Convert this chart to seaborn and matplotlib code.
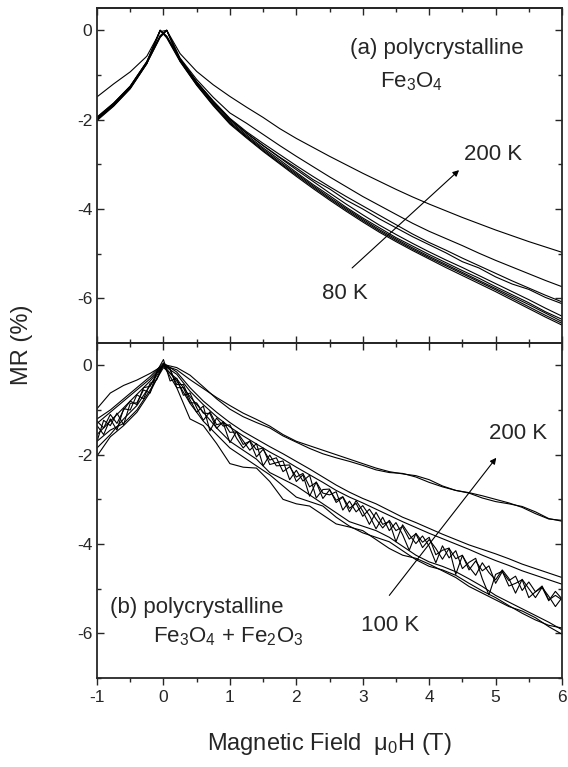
import numpy as np
import pandas as pd
import matplotlib
matplotlib.use("Agg")
import matplotlib.pyplot as plt
from matplotlib.ticker import MultipleLocator
import seaborn as sns

# ---- (a) polycrystalline Fe3O4, field grid (T) ----
field_a = [-1.0, -0.75, -0.5, -0.25, -0.05, 0.05, 0.25, 0.5, 0.75, 1.0,
           1.25, 1.5, 1.75, 2.0, 2.25, 2.5, 2.75, 3.0, 3.25, 3.5,
           3.75, 4.0, 4.25, 4.5, 4.75, 5.0, 5.25, 5.5, 5.75, 6.0]

mr_a_200K = [-1.49, -1.20, -0.93, -0.58, -0.03, 0.00, -0.52, -0.92, -1.22, -1.48,
             -1.72, -1.95, -2.20, -2.42, -2.62, -2.82, -3.01, -3.20, -3.38, -3.56,
             -3.73, -3.89, -4.04, -4.19, -4.33, -4.47, -4.60, -4.73, -4.85, -4.97]
mr_a_180K = [-1.95, -1.63, -1.25, -0.70, -0.12, 0.00, -0.62, -1.10, -1.50, -1.85,
             -2.08, -2.33, -2.58, -2.82, -3.05, -3.28, -3.50, -3.72, -3.92, -4.12,
             -4.32, -4.50, -4.66, -4.82, -4.99, -5.15, -5.30, -5.45, -5.60, -5.74]
mr_a_160K = [-1.97, -1.65, -1.26, -0.71, 0.00, -0.13, -0.64, -1.15, -1.58, -1.97,
             -2.27, -2.53, -2.78, -3.03, -3.27, -3.50, -3.72, -3.93, -4.14, -4.35,
             -4.56, -4.75, -4.92, -5.10, -5.27, -5.44, -5.61, -5.77, -5.93, -6.08]
mr_a_150K = [-1.99, -1.66, -1.28, -0.72, -0.13, 0.00, -0.65, -1.16, -1.60, -2.00,
             -2.30, -2.58, -2.84, -3.08, -3.34, -3.55, -3.80, -4.00, -4.22, -4.42,
             -4.62, -4.80, -4.98, -5.18, -5.32, -5.52, -5.68, -5.80, -5.98, -6.12]
mr_a_140K = [-1.94, -1.63, -1.25, -0.70, 0.00, -0.14, -0.64, -1.16, -1.60, -1.99,
             -2.30, -2.58, -2.85, -3.12, -3.38, -3.64, -3.89, -4.13, -4.36, -4.57,
             -4.77, -4.96, -5.14, -5.31, -5.49, -5.67, -5.85, -6.03, -6.22, -6.40]
mr_a_130K = [-1.97, -1.67, -1.27, -0.73, -0.15, 0.00, -0.67, -1.19, -1.63, -2.03,
             -2.34, -2.63, -2.90, -3.18, -3.45, -3.70, -3.96, -4.20, -4.42, -4.64,
             -4.83, -5.02, -5.20, -5.38, -5.55, -5.74, -5.92, -6.10, -6.30, -6.47]
mr_a_110K = [-2.00, -1.69, -1.30, -0.74, 0.00, -0.16, -0.68, -1.21, -1.66, -2.06,
             -2.37, -2.66, -2.94, -3.21, -3.48, -3.74, -3.99, -4.23, -4.46, -4.67,
             -4.87, -5.06, -5.24, -5.42, -5.60, -5.78, -5.96, -6.14, -6.33, -6.52]
mr_a_95K = [-1.99, -1.68, -1.29, -0.74, -0.16, 0.00, -0.69, -1.22, -1.67, -2.08,
            -2.39, -2.69, -2.97, -3.24, -3.51, -3.77, -4.02, -4.26, -4.49, -4.70,
            -4.90, -5.09, -5.27, -5.45, -5.63, -5.81, -6.00, -6.19, -6.38, -6.56]
mr_a_80K = [-2.02, -1.70, -1.31, -0.75, 0.00, -0.17, -0.70, -1.23, -1.69, -2.10,
            -2.41, -2.71, -2.99, -3.27, -3.54, -3.80, -4.05, -4.29, -4.52, -4.73,
            -4.93, -5.12, -5.31, -5.49, -5.67, -5.85, -6.04, -6.23, -6.42, -6.60]

curves_a = {"200K": mr_a_200K, "180K": mr_a_180K, "160K": mr_a_160K,
            "150K": mr_a_150K, "140K": mr_a_140K, "130K": mr_a_130K,
            "110K": mr_a_110K, "95K": mr_a_95K, "80K": mr_a_80K}

# ---- (b) polycrystalline Fe3O4 + Fe2O3 ----
field_b = [-1.0, -0.8, -0.6, -0.4, -0.2, 0.0, 0.2, 0.4, 0.6, 0.8,
           1.0, 1.2, 1.4, 1.6, 1.8, 2.0, 2.2, 2.4, 2.6, 2.8,
           3.0, 3.2, 3.4, 3.6, 3.8, 4.0, 4.2, 4.4, 4.6, 4.8,
           5.0, 5.2, 5.4, 5.6, 5.8, 6.0]

mr_b_200K_up = [-0.97, -0.62, -0.45, -0.33, -0.18, 0.00, -0.10, -0.32, -0.52, -0.72,
                -0.90, -1.07, -1.21, -1.36, -1.55, -1.70, -1.80, -1.90, -2.00, -2.10,
                -2.20, -2.30, -2.38, -2.43, -2.47, -2.56, -2.70, -2.80, -2.86, -2.97,
                -3.05, -3.10, -3.16, -3.28, -3.43, -3.49]
mr_b_200K_dn = [-1.30, -1.05, -0.80, -0.55, -0.30, 0.02, -0.05, -0.22, -0.48, -0.75,
                -0.98, -1.15, -1.28, -1.40, -1.58, -1.72, -1.86, -1.98, -2.07, -2.15,
                -2.24, -2.34, -2.40, -2.42, -2.50, -2.62, -2.72, -2.80, -2.85, -2.92,
                -3.00, -3.08, -3.18, -3.32, -3.44, -3.47]
mr_b_180K_up = [-1.20, -1.00, -0.75, -0.50, -0.25, 0.05, -0.15, -0.50, -0.80, -1.05,
                -1.28, -1.48, -1.65, -1.82, -1.98, -2.15, -2.32, -2.50, -2.68, -2.84,
                -2.98, -3.10, -3.25, -3.40, -3.52, -3.65, -3.78, -3.90, -4.02, -4.12,
                -4.22, -4.33, -4.45, -4.55, -4.65, -4.75]
mr_b_180K_dn = [-1.55, -1.25, -0.95, -0.65, -0.35, 0.00, -0.20, -0.58, -0.88, -1.15,
                -1.38, -1.58, -1.76, -1.94, -2.10, -2.28, -2.45, -2.62, -2.80, -2.95,
                -3.08, -3.22, -3.36, -3.50, -3.63, -3.76, -3.88, -4.00, -4.12, -4.25,
                -4.37, -4.48, -4.60, -4.70, -4.80, -4.90]
mr_b_100K_a = [-2.03, -1.60, -1.35, -1.05, -0.60, 0.00, -0.50, -1.20, -1.35, -1.75,
               -2.20, -2.28, -2.30, -2.60, -3.00, -3.10, -3.15, -3.35, -3.55, -3.62,
               -3.70, -3.90, -4.10, -4.25, -4.32, -4.45, -4.60, -4.75, -4.95, -5.10,
               -5.25, -5.40, -5.50, -5.65, -5.85, -6.02]
mr_b_100K_b = [-1.70, -1.45, -1.30, -1.00, -0.55, -0.05, -0.30, -0.70, -1.05, -1.40,
               -1.70, -1.90, -2.10, -2.40, -2.55, -2.70, -2.90, -3.10, -3.30, -3.50,
               -3.60, -3.70, -3.85, -4.05, -4.25, -4.40, -4.50, -4.62, -4.78, -4.95,
               -5.15, -5.30, -5.45, -5.60, -5.75, -5.92]
mr_b_120K = [-1.85, -1.55, -1.20, -0.90, -0.45, 0.00, -0.35, -0.85, -1.25, -1.55,
             -1.85, -2.05, -2.25, -2.45, -2.70, -2.95, -3.05, -3.15, -3.40, -3.60,
             -3.75, -3.85, -3.95, -4.15, -4.35, -4.50, -4.58, -4.70, -4.88, -5.05,
             -5.20, -5.38, -5.55, -5.70, -5.82, -5.88]

# noisy sweeps, read on a 0.1 T grid
field_b_fine = [-1.0, -0.9, -0.8, -0.7, -0.6, -0.5, -0.4, -0.3, -0.2, -0.1,
                0.0, 0.1, 0.2, 0.3, 0.4, 0.5, 0.6, 0.7, 0.8, 0.9,
                1.0, 1.1, 1.2, 1.3, 1.4, 1.5, 1.6, 1.7, 1.8, 1.9,
                2.0, 2.1, 2.2, 2.3, 2.4, 2.5, 2.6, 2.7, 2.8, 2.9,
                3.0, 3.1, 3.2, 3.3, 3.4, 3.5, 3.6, 3.7, 3.8, 3.9,
                4.0, 4.1, 4.2, 4.3, 4.4, 4.5, 4.6, 4.7, 4.8, 4.9,
                5.0, 5.1, 5.2, 5.3, 5.4, 5.5, 5.6, 5.7, 5.8, 5.9, 6.0]

mr_b_150K = [-1.35, -1.55, -1.20, -1.45, -0.97, -1.00, -0.66, -0.75, -0.40, -0.32,
             0.05, -0.10, -0.43, -0.43, -0.77, -1.05, -0.91, -1.47, -1.18, -1.36,
             -1.33, -1.63, -1.85, -1.69, -1.89, -1.85, -2.22, -2.18, -2.14, -2.56,
             -2.35, -2.59, -2.46, -2.97, -2.78, -2.77, -3.07, -2.95, -3.28, -3.03,
             -3.26, -3.56, -3.29, -3.56, -3.50, -3.95, -3.57, -3.79, -3.99, -3.82,
             -4.05, -4.42, -4.04, -4.31, -4.15, -4.55, -4.41, -4.32, -4.78, -5.14,
             -4.68, -4.61, -4.94, -4.88, -4.80, -5.20, -5.07, -4.94, -5.25, -5.15, -5.25]
mr_b_140K = [-1.70, -1.23, -1.35, -1.07, -1.33, -0.85, -0.84, -0.55, -0.62, -0.14,
             0.13, -0.35, -0.29, -0.67, -0.62, -0.95, -1.23, -1.04, -1.33, -1.29,
             -1.73, -1.48, -1.69, -1.90, -1.75, -2.25, -2.01, -2.25, -2.24, -2.23,
             -2.60, -2.45, -2.93, -2.61, -2.86, -2.90, -2.83, -3.24, -3.04, -3.28,
             -3.14, -3.36, -3.66, -3.40, -3.70, -3.52, -3.79, -4.14, -3.76, -3.96,
             -3.85, -4.24, -4.14, -4.09, -4.68, -4.26, -4.51, -4.70, -4.42, -4.64,
             -4.80, -4.58, -4.77, -5.10, -4.79, -5.00, -5.20, -4.97, -5.17, -5.40, -5.20]
mr_b_130K = [-1.25, -1.40, -1.10, -1.30, -1.00, -0.80, -0.88, -0.50, -0.47, -0.17,
             0.00, -0.07, -0.50, -0.50, -0.84, -0.84, -1.07, -1.08, -1.41, -1.26,
             -1.50, -1.49, -1.77, -1.70, -2.05, -1.88, -2.12, -2.07, -2.38, -2.27,
             -2.50, -2.42, -2.72, -2.62, -2.98, -2.79, -3.02, -2.94, -3.20, -3.09,
             -3.38, -3.22, -3.44, -3.64, -3.47, -3.70, -3.61, -3.89, -3.77, -4.08,
             -3.90, -4.10, -4.34, -4.10, -4.33, -4.25, -4.58, -4.38, -4.60, -4.49,
             -4.88, -4.62, -4.82, -4.72, -5.04, -4.85, -5.07, -4.97, -5.27, -5.06, -5.23]

curves_b = {"200K up": (field_b, mr_b_200K_up), "200K dn": (field_b, mr_b_200K_dn),
            "180K up": (field_b, mr_b_180K_up), "180K dn": (field_b, mr_b_180K_dn),
            "150K": (field_b_fine, mr_b_150K), "140K": (field_b_fine, mr_b_140K),
            "130K": (field_b_fine, mr_b_130K), "120K": (field_b, mr_b_120K),
            "100K a": (field_b, mr_b_100K_a), "100K b": (field_b, mr_b_100K_b)}

df_a = pd.concat([pd.DataFrame({"H": field_a, "MR": v, "curve": k})
                  for k, v in curves_a.items()], ignore_index=True)
df_b = pd.concat([pd.DataFrame({"H": xs, "MR": ys, "curve": k})
                  for k, (xs, ys) in curves_b.items()], ignore_index=True)

sns.set_style("ticks")
plt.rcParams["font.family"] = ["Liberation Sans", "DejaVu Sans"]
plt.rcParams["mathtext.fontset"] = "custom"
plt.rcParams["mathtext.rm"] = "Liberation Sans"
plt.rcParams["axes.unicode_minus"] = False

fig = plt.figure(figsize=(5.68, 7.67), dpi=100)
ax1 = fig.add_axes([0.1708, 0.5528, 0.8187, 0.4368])
ax2 = fig.add_axes([0.1708, 0.1160, 0.8187, 0.4368])

sns.lineplot(data=df_a, x="H", y="MR", units="curve", estimator=None,
             color="black", lw=0.8, ax=ax1)
sns.lineplot(data=df_b, x="H", y="MR", units="curve", estimator=None,
             color="black", lw=0.8, ax=ax2)

for i, ax in enumerate([ax1, ax2]):
    ax.set_xlim(-1, 6)
    ax.set_ylim(-7, 0.5)
    ax.set_xlabel("")
    ax.set_ylabel("")
    ax.xaxis.set_major_locator(MultipleLocator(1))
    ax.xaxis.set_minor_locator(MultipleLocator(0.5))
    ax.yaxis.set_major_locator(MultipleLocator(2))
    ax.yaxis.set_minor_locator(MultipleLocator(1))
    for s in ax.spines.values():
        s.set_visible(True)
        s.set_linewidth(1.3)
    ax.tick_params(axis="y", which="both", direction="in", left=True, right=True,
                   labelsize=12.5, width=1.0)
    ax.tick_params(axis="both", which="major", length=5)
    ax.tick_params(axis="both", which="minor", length=3, width=1.0)
    ax.tick_params(axis="x", which="both", top=False, bottom=True,
                   direction="in" if i == 0 else "out", labelsize=12.5, width=1.0)
    sec = ax.secondary_xaxis("top")
    sec.xaxis.set_major_locator(MultipleLocator(1))
    sec.xaxis.set_minor_locator(MultipleLocator(0.5))
    sec.tick_params(axis="x", which="both", direction="in", labeltop=False, width=1.0)
    sec.tick_params(which="major", length=5)
    sec.tick_params(which="minor", length=3)
    sec.spines["top"].set_linewidth(1.3)
ax1.tick_params(axis="x", labelbottom=False)

arrow = dict(arrowstyle="-|>", lw=0.8, color="black", mutation_scale=9,
             shrinkA=0, shrinkB=0)
ax1.annotate("", xy=(4.45, -3.13), xytext=(2.84, -5.32), arrowprops=arrow)
ax2.annotate("", xy=(5.01, -2.07), xytext=(3.40, -5.15), arrowprops=arrow)

fs = 16
ax1.text(4.11, -0.54, "(a) polycrystalline", ha="center", va="baseline", fontsize=fs)
ax1.text(3.74, -1.28, r"Fe$_\mathregular{3}$O$_\mathregular{4}$", ha="center",
         va="baseline", fontsize=fs)
ax1.text(4.96, -2.90, "200 K", ha="center", va="baseline", fontsize=fs)
ax1.text(2.73, -6.01, "80 K", ha="center", va="baseline", fontsize=fs)

ax2.text(5.34, -1.66, "200 K", ha="center", va="baseline", fontsize=fs)
ax2.text(3.41, -5.95, "100 K", ha="center", va="baseline", fontsize=fs)
ax2.text(-0.81, -5.54, "(b) polycrystalline", ha="left", va="baseline", fontsize=fs)
ax2.text(-0.16, -6.21,
         r"Fe$_\mathregular{3}$O$_\mathregular{4}$ + Fe$_\mathregular{2}$O$_\mathregular{3}$",
         ha="left", va="baseline", fontsize=fs)

fig.text(329 / 568, 1 - 750 / 767, r"Magnetic Field  $\mathregular{\mu_0}$H (T)",
         ha="center", va="baseline", fontsize=17)
fig.text(22 / 568, 1 - 345 / 767, "MR (%)", rotation=90, ha="center", va="center",
         fontsize=17)

fig.savefig("out.png", dpi=100)
